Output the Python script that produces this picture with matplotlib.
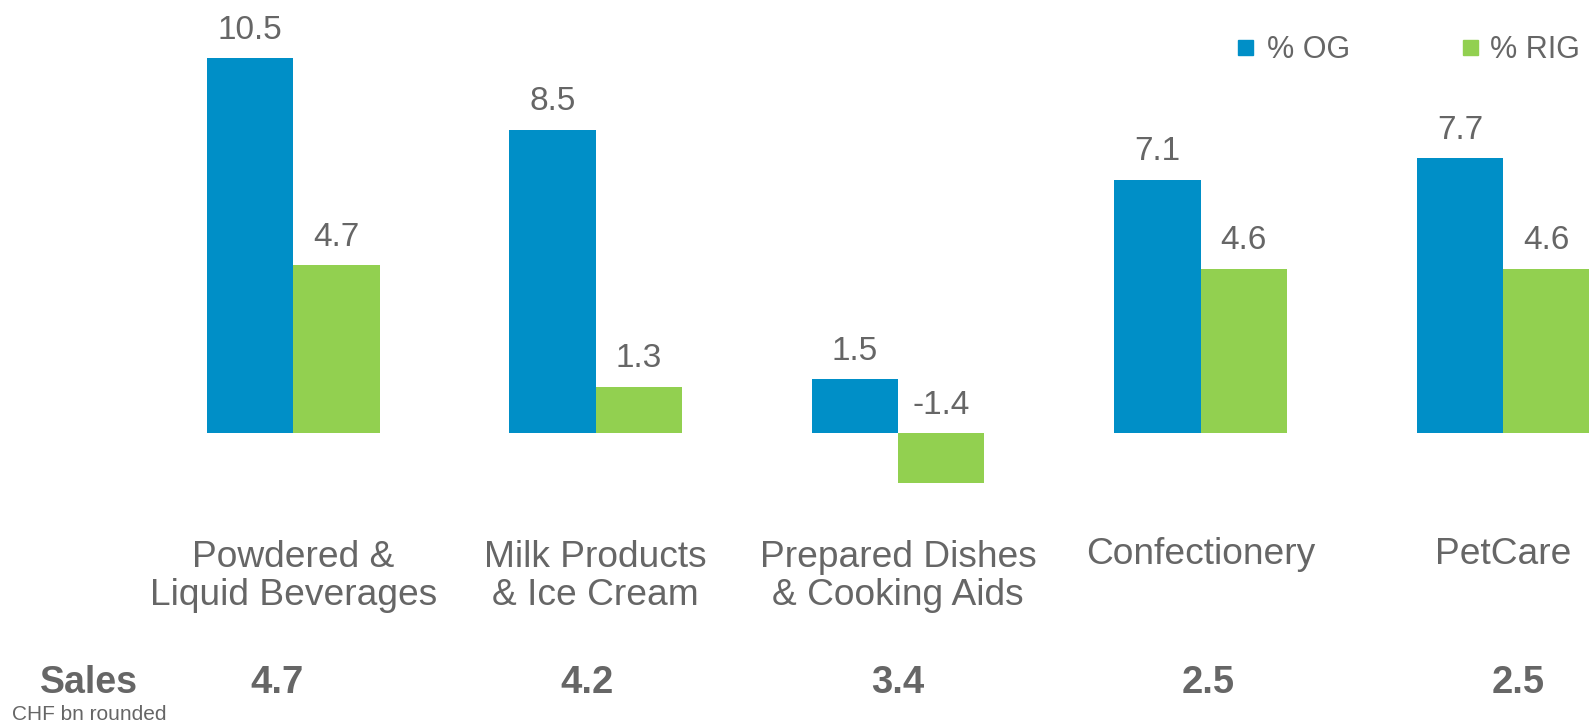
import numpy as np
import matplotlib.pyplot as plt
from matplotlib.patches import Rectangle
from matplotlib.transforms import blended_transform_factory

plt.rcParams['font.family'] = ['Liberation Sans', 'DejaVu Sans']

# Daten
categories = ["Powdered &\nLiquid Beverages", "Milk Products\n& Ice Cream",
              "Prepared Dishes\n& Cooking Aids", "Confectionery", "PetCare"]
series = ['% OG', '% RIG']
og = [10.5, 8.5, 1.5, 7.1, 7.7]
rig = [4.7, 1.3, -1.4, 4.6, 4.6]
sales = [4.7, 4.2, 3.4, 2.5, 2.5]

blue = '#008FC7'
green = '#92D050'
grey = '#666666'

W, H = 1591, 724
fig = plt.figure(figsize=(W / 100, H / 100), dpi=100)
ax = fig.add_axes([0, 0, 1, 1])
ax.set_axis_off()

x = np.arange(len(categories))
w = 0.2854
b1 = ax.bar(x - w / 2, og, width=w, color=blue, label=series[0])
b2 = ax.bar(x + w / 2, rig, width=w, color=green, label=series[1])

ax.set_xlim(-0.970, 4.291)
ax.set_ylim(-8.15, 12.13)

# Werte über den Balken
for i in range(len(categories)):
    for xi, v in ((x[i] - w / 2, og[i]), (x[i] + w / 2, rig[i])):
        ax.annotate(f"{v:.1f}", (xi, max(v, 0)), xytext=(0, 14),
                    textcoords='offset points', ha='center', va='baseline',
                    fontsize=24, color=grey)

# Kategorien (Grundlinie der ersten Zeile bei 564 px)
trans = blended_transform_factory(ax.transData, fig.transFigure)
line_h = 40.6
for i, c in enumerate(categories):
    nl = c.count('\n')
    ax.text(x[i], 1 - (564 + nl * line_h) / H, c, transform=trans,
            ha='center', va='baseline', fontsize=26.7, color=grey,
            linespacing=1.1)

# Umsatzzeile
for i, s in enumerate(sales):
    fig.text((277 + 310.3 * i) / W, 1 - 693 / H, f"{s:.1f}", ha='center',
             va='baseline', fontsize=27.5, color=grey, fontweight='bold')
fig.text(89 / W, 1 - 693 / H, "Sales", ha='center', va='baseline',
         fontsize=27, color=grey, fontweight='bold')
fig.text(11.5 / W, 1 - 720.5 / H, "CHF bn rounded", ha='left',
         va='baseline', fontsize=15, color=grey)

# Legende
for (sx, tx), name, col in zip([(1238, 1267), (1463, 1490)], series,
                               [blue, green]):
    fig.patches.append(Rectangle((sx / W, 1 - 54.5 / H), 15 / W, 14.5 / H,
                                 transform=fig.transFigure, color=col))
    fig.text(tx / W, 1 - 58 / H, name, ha='left', va='baseline',
             fontsize=22, color=grey)

plt.savefig('out.png', dpi=100)
